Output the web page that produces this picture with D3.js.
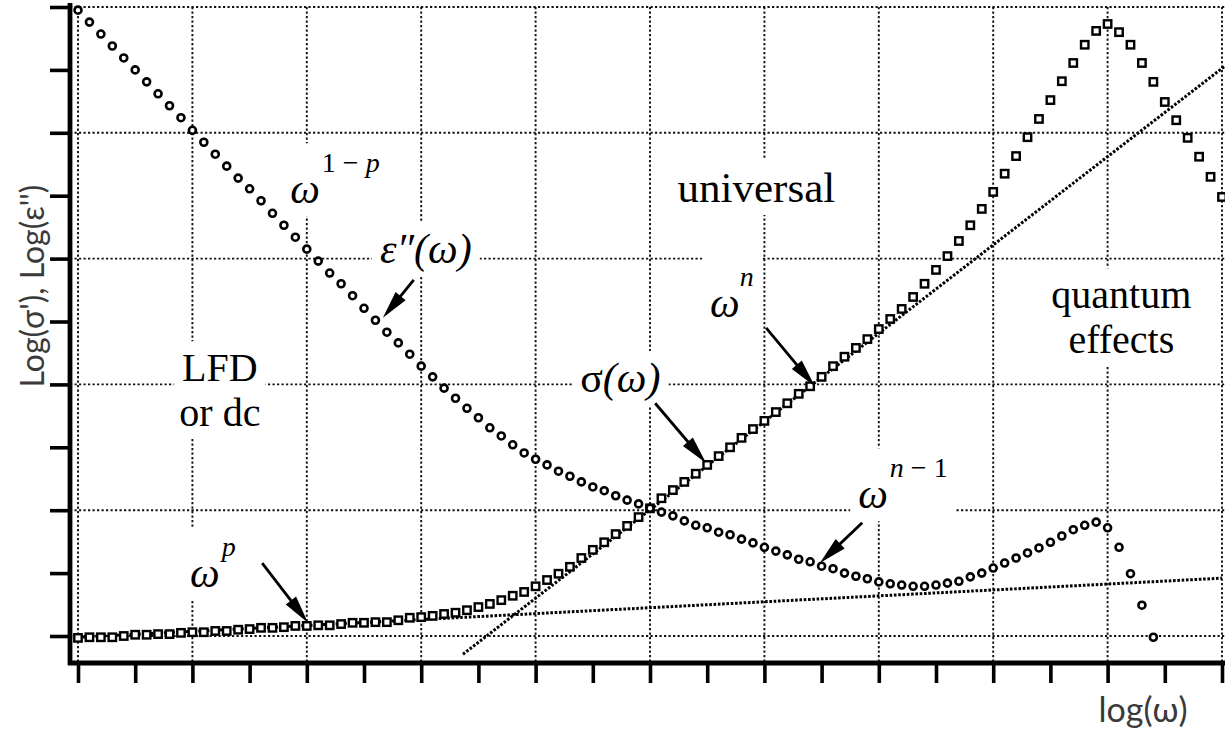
<!DOCTYPE html>
<html>
<head>
<meta charset="utf-8">
<script src="https://cdn.jsdelivr.net/npm/d3@7"></script>
<style>
  html, body { margin: 0; padding: 0; background: #fff; }
  svg { display: block; }
</style>
</head>
<body>
<svg id="chart" width="1225" height="733"></svg>
<script>
// log(ω) sample positions shared by both measured curves
const logOmega = [0,0.2,0.4,0.6,0.8,1,1.2,1.4,1.6,1.8,2,2.2,2.4,2.6,2.8,3,3.2,3.4,3.6,3.8,
  4,4.2,4.4,4.6,4.8,5,5.2,5.4,5.6,5.8,6,6.2,6.4,6.6,6.8,7,7.2,7.4,7.6,7.8,
  8,8.2,8.4,8.6,8.8,9,9.2,9.4,9.6,9.8,10,10.2,10.4,10.6,10.8,11,11.2,11.4,11.6,11.8,
  12,12.2,12.4,12.6,12.8,13,13.2,13.4,13.6,13.8,14,14.2,14.4,14.6,14.8,15,15.2,15.4,15.6,15.8,
  16,16.2,16.4,16.6,16.8,17,17.2,17.4,17.6,17.8,18,18.2,18.4,18.6,18.8,19,19.2,19.4,19.6,19.8,20];

// log σ'(ω) — square markers
const sigmaLog = [-0.03,-0.02,-0.02,-0.02,0.00,0.02,0.02,0.03,0.03,0.05,
  0.06,0.06,0.08,0.08,0.10,0.11,0.13,0.13,0.14,0.16,
  0.16,0.17,0.17,0.19,0.21,0.21,0.22,0.22,0.25,0.29,
  0.30,0.32,0.35,0.37,0.41,0.46,0.51,0.57,0.64,0.70,
  0.79,0.89,0.99,1.10,1.24,1.37,1.49,1.62,1.75,1.89,
  2.03,2.19,2.32,2.45,2.58,2.72,2.86,3.00,3.15,3.29,
  3.42,3.56,3.70,3.85,3.97,4.12,4.29,4.44,4.58,4.72,
  4.88,5.04,5.20,5.39,5.60,5.82,6.04,6.28,6.53,6.79,
  7.06,7.35,7.63,7.93,8.22,8.52,8.82,9.11,9.40,9.62,
  9.73,9.60,9.40,9.11,8.81,8.49,8.20,7.92,7.62,7.30,
  6.98];

// log ε''(ω) — circle markers
const epsLog = [9.95,9.76,9.57,9.38,9.19,9.00,8.81,8.62,8.43,8.24,
  8.04,7.85,7.66,7.47,7.28,7.11,6.92,6.72,6.53,6.34,
  6.15,5.96,5.77,5.60,5.41,5.21,5.02,4.83,4.66,4.48,
  4.29,4.12,3.94,3.78,3.62,3.47,3.31,3.18,3.04,2.91,
  2.81,2.72,2.62,2.54,2.45,2.37,2.31,2.23,2.16,2.10,
  2.03,1.97,1.91,1.83,1.76,1.72,1.65,1.61,1.54,1.48,
  1.41,1.35,1.29,1.22,1.18,1.11,1.07,1.00,0.95,0.91,
  0.86,0.83,0.81,0.79,0.79,0.81,0.84,0.87,0.94,1.00,
  1.08,1.16,1.24,1.32,1.40,1.49,1.59,1.69,1.76,1.81,
  1.72,1.41,0.99,0.49,-0.02];

// power-law guide lines (end points)
const guideP = [[0, -0.02], [20, 0.92]];      // ω^p
const guideN = [[6.73, -0.29], [20.05, 9.06]]; // ω^n

const xTicks = [0,1,2,3,4,5,6,7,8,9,10,11,12,13,14,15,16,17,18,19,20];
const yTicks = [0,1,2,3,4,5,6,7,8,9,10];
const xGrid = [0,2,4,6,8,10,12,14,16,18,20];
const yGrid = [0,2,4,6,8,10];

const serif = "'Liberation Serif', 'Times New Roman', serif";
const sans = "Lato, 'Noto Sans', sans-serif";

const svg = d3.select("#chart");
const W = 1225, H = 733;

const x = d3.scaleLinear().domain([0, 20]).range([78, 1222]);
const y = d3.scaleLinear().domain([0, 10]).range([636, 7]);

svg.append("rect").attr("width", W).attr("height", H).attr("fill", "#fff");

// dotted grid
const grid = svg.append("g").attr("stroke", "#111").attr("stroke-width", 1.9)
  .attr("stroke-dasharray", "2.2,2.3").attr("fill", "none");
grid.selectAll("line.v").data(xGrid).join("line").attr("class", "v")
  .attr("x1", d => x(d)).attr("x2", d => x(d)).attr("y1", y(10)).attr("y2", 663);
grid.selectAll("line.h").data(yGrid).join("line").attr("class", "h")
  .attr("x1", 70).attr("x2", W).attr("y1", d => y(d)).attr("y2", d => y(d));

const bgLayer = svg.append("g");

// axes
const yAxis = d3.axisLeft(y).tickValues(yTicks).tickSize(20).tickSizeOuter(0).tickFormat("");
const xAxisB = d3.axisBottom(x).tickValues(xTicks).tickSize(20).tickSizeOuter(0).tickFormat("");
const gy = svg.append("g").attr("transform", "translate(70,0)").call(yAxis);
const gx = svg.append("g").attr("transform", "translate(0,663)").call(xAxisB);
[gy, gx].forEach(g => {
  g.select(".domain").remove();
  g.selectAll(".tick line").attr("stroke", "#000").attr("stroke-width", 3.6);
});
svg.append("line").attr("x1", 70).attr("x2", 70).attr("y1", 3).attr("y2", 665)
  .attr("stroke", "#000").attr("stroke-width", 4.8);
svg.append("line").attr("x1", 68).attr("x2", W).attr("y1", 663).attr("y2", 663)
  .attr("stroke", "#000").attr("stroke-width", 4.8);

// guide lines
const line = d3.line().x(d => x(d[0])).y(d => y(d[1]));
[guideP, guideN].forEach(g => {
  svg.append("path").attr("d", line(g)).attr("fill", "none")
    .attr("stroke", "#000").attr("stroke-width", 3).attr("stroke-dasharray", "2.6,1.7");
});

// σ' squares
const sq = 7.4;
svg.append("g").selectAll("rect").data(sigmaLog).join("rect")
  .attr("x", (d, i) => x(logOmega[i]) - sq / 2)
  .attr("y", d => y(d) - sq / 2)
  .attr("width", sq).attr("height", sq)
  .attr("fill", "#fff").attr("stroke", "#000").attr("stroke-width", 2.4);

// ε'' circles
svg.append("g").selectAll("circle").data(epsLog).join("circle")
  .attr("cx", (d, i) => x(logOmega[i]))
  .attr("cy", d => y(d))
  .attr("r", 3.5)
  .attr("fill", "#fff").attr("stroke", "#000").attr("stroke-width", 2.6);

// arrows pointing at the curves
const arrows = [
  [[5.87, 5.66], [5.33, 5.06]],
  [[10.09, 3.70], [10.98, 2.75]],
  [[12.03, 4.90], [12.88, 3.97]],
  [[3.22, 1.16], [4.02, 0.21]],
  [[13.71, 1.80], [12.97, 1.16]]
];
const ag = svg.append("g");
arrows.forEach(([a, b]) => {
  const x1 = x(a[0]), y1 = y(a[1]), x2 = x(b[0]), y2 = y(b[1]);
  const dx = x2 - x1, dy = y2 - y1, len = Math.hypot(dx, dy);
  const ux = dx / len, uy = dy / len, L = 28, hw = 6.5;
  const bx = x2 - ux * L, by = y2 - uy * L;
  ag.append("line").attr("x1", x1).attr("y1", y1).attr("x2", bx + ux * 2).attr("y2", by + uy * 2)
    .attr("stroke", "#000").attr("stroke-width", 2.8);
  ag.append("path")
    .attr("d", `M${x2},${y2}L${bx - uy * hw},${by + ux * hw}L${bx + uy * hw},${by - ux * hw}Z`)
    .attr("fill", "#000");
});

// text annotations
const labels = [
  { at: [3.71, 6.88], parts: [["ω", "i"], ["1 − ", "s"], ["p", "si"]] },
  { at: [5.28, 5.93], parts: [["ε″(ω)", "i"]] },
  { at: [8.78, 3.88], parts: [["σ", ""], ["(ω)", "i"]] },
  { at: [11.05, 5.07], parts: [["ω", "i"], ["n", "si"]], supDx: 0 },
  { at: [13.64, 2.03], parts: [["ω", "i"], ["n", "si"], [" − 1", "s"]] },
  { at: [1.96, 0.78], parts: [["ω", "i"], ["p", "si"]] },
  { at: [11.86, 6.90], lines: ["universal"], size: 43 },
  { at: [18.24, 5.21], lines: ["quantum", "effects"], size: 40 },
  { at: [2.48, 4.05], lines: ["LFD", "or dc"], size: 40 }
];
const tg = svg.append("g").attr("font-family", serif).attr("fill", "#000");
labels.forEach(lb => {
  if (lb.lines) {
    // one text element per line
    lb.lines.forEach((s, i) => {
      tg.append("text")
        .attr("x", x(lb.at[0])).attr("y", y(lb.at[1]) + i * 44.6)
        .attr("text-anchor", "middle").attr("font-size", lb.size)
        .text(s);
    });
  } else {
    const t = tg.append("text").attr("x", x(lb.at[0])).attr("y", y(lb.at[1]))
      .attr("font-size", 42);
    let supStarted = false;
    lb.parts.forEach(([s, f]) => {
      const sp = t.append("tspan").text(s);
      if (f.includes("i")) sp.attr("font-style", "italic");
      if (f.includes("s")) {
        sp.attr("font-size", 28);
        if (!supStarted) {
          sp.attr("dy", -31).attr("dx", lb.supDx === undefined ? 2 : lb.supDx);
          supStarted = true;
        }
      }
    });
  }
});

// white backing behind the annotations so the grid breaks around them
tg.selectAll("text").each(function () {
  const b = this.getBBox();
  bgLayer.append("rect")
    .attr("x", b.x - 8).attr("y", b.y - 4)
    .attr("width", b.width + 16).attr("height", b.height + 8)
    .attr("fill", "#fff");
});

// axis titles
svg.append("text")
  .attr("transform", "translate(44,286) rotate(-90)")
  .attr("text-anchor", "middle")
  .attr("font-family", sans).attr("font-size", 32).attr("fill", "#3a3a3a")
  .text("Log(σ'), Log(ε'')");
svg.append("text")
  .attr("x", 1143).attr("y", 722)
  .attr("text-anchor", "middle")
  .attr("font-family", sans).attr("font-size", 34).attr("fill", "#3a3a3a")
  .text("log(ω)");
</script>
</body>
</html>
